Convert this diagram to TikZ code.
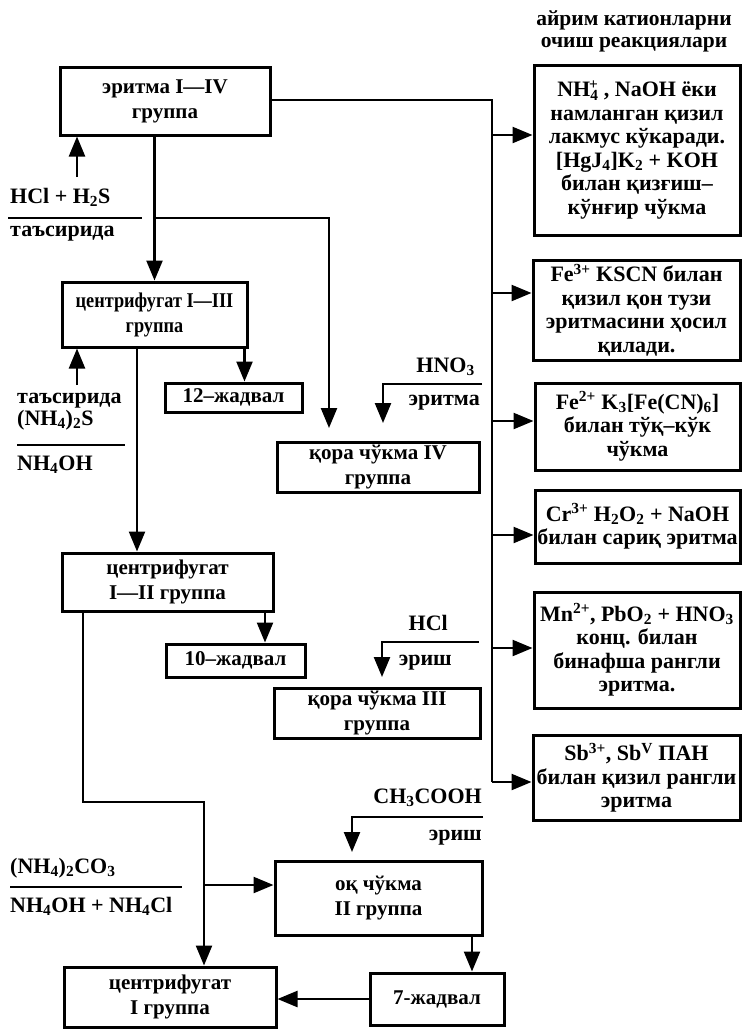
\documentclass[tikz,border=0pt]{standalone}
\usepackage{fontspec}
\setmainfont{Liberation Serif}
\newfontfamily\condfont{Liberation Serif}[FakeStretch=0.87]
\usetikzlibrary{arrows.meta}
\begin{document}
\begin{tikzpicture}[x=1pt,y=-1pt,
  bx/.style={draw, line width=3pt, inner sep=0pt, align=center,
    font=\bfseries\fontsize{21}{25}\selectfont},
  rbx/.style={draw, line width=3pt, inner sep=0pt, align=center,
    font=\bfseries\fontsize{22}{23.5}\selectfont},
  lab/.style={inner sep=0pt, font=\bfseries\fontsize{22}{23}\selectfont},
  conn/.style={line width=2.4pt},
  arr/.style={conn, -{Triangle[length=20pt,width=16pt]}}]
\useasboundingbox (0,0) rectangle (743,1031);
% left / middle boxes
\node[bx, minimum width=210pt, minimum height=68pt] (A) at (165,101) {эритма I—IV\\группа};
\node[bx, minimum width=185pt, minimum height=65pt, font=\condfont\bfseries\fontsize{21}{25}\selectfont] (B) at (154.5,314.5) {центрифугат I—III\\группа};
\node[bx, minimum width=202pt, minimum height=50pt] (C) at (378,467) {қора чўкма IV\\группа};
\node[bx, minimum width=137pt, minimum height=29pt] (D) at (233.5,397.5) {12–жадвал};
\node[bx, minimum width=211pt, minimum height=58pt] (E) at (167.5,582) {центрифугат\\I—II группа};
\node[bx, minimum width=139pt, minimum height=33pt] (F) at (235.5,660.5) {10–жадвал};
\node[bx, minimum width=206pt, minimum height=50pt] (G) at (377,713) {қора чўкма III\\группа};
\node[bx, minimum width=207pt, minimum height=74pt] (H) at (378.5,898) {оқ чўкма\\II группа};
\node[bx, minimum width=212pt, minimum height=60pt] (I) at (170,997) {центрифугат\\I группа};
\node[bx, minimum width=134pt, minimum height=52pt] (J) at (437,999) {7-жадвал};
% right column
\node[lab, align=center, font=\bfseries\fontsize{21.5}{22}\selectfont] (T) at (634,31) {айрим катионларни\\очиш реакциялари};
\node[rbx, minimum width=206pt, minimum height=170pt] (R1) at (637,150)
  {NH\textsubscript{4}\llap{\textsuperscript{+}} , NaOH ёки\\намланган қизил\\лакмус кўкаради.\\{}[HgJ\textsubscript{4}]K\textsubscript{2} + KOH\\билан қизғиш–\\кўнғир чўкма};
\node[rbx, minimum width=207pt, minimum height=100pt] (R2) at (636.5,310)
  {Fe\textsuperscript{3+} KSCN билан\\қизил қон тузи\\эритмасини ҳосил\\қилади.};
\node[rbx, minimum width=205pt, minimum height=87pt] (R3) at (637.5,426.5)
  {Fe\textsuperscript{2+} K\textsubscript{3}[Fe(CN)\textsubscript{6}]\\билан тўқ–кўк\\чўкма};
\node[rbx, minimum width=205pt, minimum height=73pt] (R4) at (637.5,526.5)
  {Cr\textsuperscript{3+} H\textsubscript{2}O\textsubscript{2} + NaOH\\билан сариқ эритма};
\node[rbx, minimum width=206pt, minimum height=116pt] (R5) at (637,650)
  {Mn\textsuperscript{2+}, PbO\textsubscript{2} + HNO\textsubscript{3}\\конц. билан\\бинафша рангли\\эритма.};
\node[rbx, minimum width=207pt, minimum height=85pt] (R6) at (636.5,777.5)
  {Sb\textsuperscript{3+}, Sb\textsuperscript{V} ПАН\\билан қизил рангли\\эритма};
% labels
\node[lab, anchor=west] (L1) at (10,197) {HCl + H\textsubscript{2}S};
\node[lab, anchor=west] (L2) at (10,234) {таъсирида};
\node[lab, anchor=west] (L3) at (17,401) {таъсирида};
\node[lab, anchor=west] (L4) at (17,420) {(NH\textsubscript{4})\textsubscript{2}S};
\node[lab, anchor=west] (L5) at (17,465) {NH\textsubscript{4}OH};
\node[lab, anchor=east] (L6) at (475,367) {HNO\textsubscript{3}};
\node[lab, anchor=east] (L7) at (480,403) {эритма};
\node[lab, anchor=east] (L8) at (448,623) {HCl};
\node[lab, anchor=east] (L9) at (452,663) {эриш};
\node[lab, anchor=east] (L10) at (482,798) {CH\textsubscript{3}COOH};
\node[lab, anchor=east] (L11) at (482,838) {эриш};
\node[lab, anchor=west] (L12) at (10,868) {(NH\textsubscript{4})\textsubscript{2}CO\textsubscript{3}};
\node[lab, anchor=west] (L13) at (10,906) {NH\textsubscript{4}OH + NH\textsubscript{4}Cl};
% fraction rules
\draw[conn] (8,218) -- (142,218);
\draw[conn] (17,445) -- (125,445);
\draw[conn] (10,887) -- (182,887);
% trunk to right column
\coordinate (t1) at (492,100);
\coordinate (t2) at (492,782);
\draw[conn] (A.east |- t1) -- (t1) -- (t2);
\coordinate (a1) at (492,135);
\coordinate (a2) at (492,293);
\coordinate (a3) at (492,421);
\coordinate (a4) at (492,535);
\coordinate (a5) at (492,648);
\draw[arr] (a1) -- (a1 -| R1.west);
\draw[arr] (a2) -- (a2 -| R2.west);
\draw[arr] (a3) -- (a3 -| R3.west);
\draw[arr] (a4) -- (a4 -| R4.west);
\draw[arr] (a5) -- (a5 -| R5.west);
\draw[arr] (t2) -- (t2 -| R6.west);
% main flow
\draw[arr] (A.south -| B.north) -- (B.north);
\coordinate (b1) at (154.5,218);
\coordinate (b2) at (329,218);
\coordinate (b3) at (329,428);
\draw[arr] (b1) -- (b2) -- (b3);
\coordinate (u1) at (77,177);
\draw[arr] (u1) -- (u1 |- A.south);
\draw[arr] ([xshift=90pt]B.south) -- ([xshift=90pt]B.south |- D.north);
\coordinate (u2) at (77,385);
\draw[arr] (u2) -- (u2 |- B.south);
\draw[arr] ([xshift=-17.5pt]B.south) -- ([xshift=-17.5pt]B.south |- E.north);
\draw[arr] ([xshift=97.5pt]E.south) -- ([xshift=97.5pt]E.south |- F.north);
\coordinate (h1) at (482,384);
\coordinate (h2) at (383,384);
\coordinate (h3) at (383,423);
\draw[arr] (h1) -- (h2) -- (h3);
\coordinate (k1) at (479,642);
\coordinate (k2) at (382,642);
\coordinate (k3) at (382,677);
\draw[arr] (k1) -- (k2) -- (k3);
\coordinate (c1) at (483,817);
\coordinate (c2) at (352,817);
\coordinate (c3) at (352,852);
\draw[arr] (c1) -- (c2) -- (c3);
\coordinate (e1) at (83,802);
\coordinate (e2) at (204,802);
\draw[arr] ([xshift=-84.5pt]E.south) -- (e1) -- (e2) -- (e2 |- I.north);
\coordinate (e3) at (204,885);
\draw[arr] (e3) -- (e3 -| H.west);
\draw[arr] ([xshift=93.5pt]H.south) -- ([xshift=93.5pt]H.south |- J.north);
\draw[arr] (J.west) -- (J.west -| I.east);
\end{tikzpicture}
\end{document}
